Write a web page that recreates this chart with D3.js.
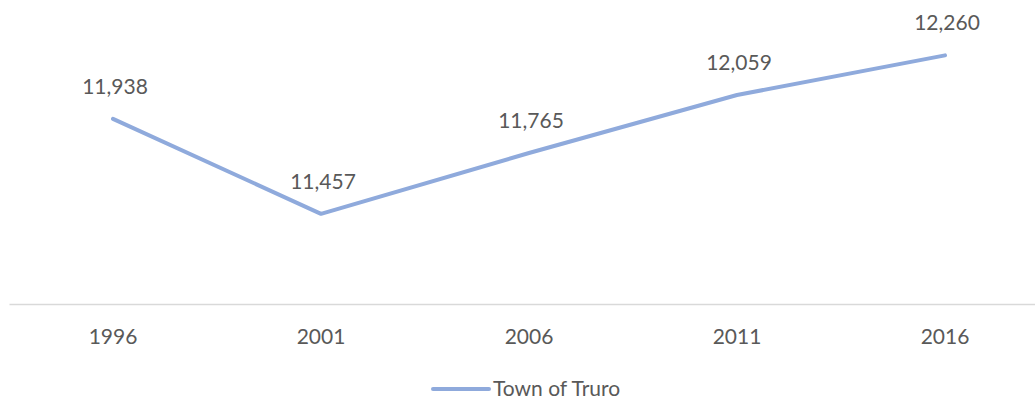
<!DOCTYPE html>
<meta charset="utf-8">
<style>
body {
  margin: 0;
  background: #fff;
}
text {
  font-family: Lato, "Open Sans", sans-serif;
  fill: #595959;
  font-size: 21px;
}
</style>
<body>
<script src="https://d3js.org/d3.v7.min.js"></script>
<script>
// chart data
var years = ["1996", "2001", "2006", "2011", "2016"];
var population = [11938, 11457, 11765, 12059, 12260];
var seriesName = "Town of Truro";

var width = 1035, height = 400;
var lineColor = "#8faadc";

var svg = d3.select("body").append("svg")
  .attr("width", width)
  .attr("height", height);

var x = d3.scaleBand()
  .domain(years)
  .range([9, 1049]);

var y = d3.scaleLinear()
  .domain([11000, 12500])
  .range([304, 8]);

// category axis
var xAxis = svg.append("g")
  .attr("transform", "translate(0," + y(11000) + ")")
  .call(d3.axisBottom(x).tickSize(0).tickPadding(25));
xAxis.select(".domain")
  .attr("stroke", "#d9d9d9")
  .attr("stroke-width", 1.5);
xAxis.selectAll("text")
  .attr("fill", "#595959")
  .style("font-size", "21px")
  .style("font-family", "Lato, 'Open Sans', sans-serif");

var pts = years.map(function(d, i) { return {year: d, value: population[i]}; });

var line = d3.line()
  .x(function(d) { return x(d.year) + x.bandwidth() / 2; })
  .y(function(d) { return y(d.value); });

svg.append("path")
  .datum(pts)
  .attr("fill", "none")
  .attr("stroke", lineColor)
  .attr("stroke-width", 4)
  .attr("stroke-linecap", "round")
  .attr("stroke-linejoin", "round")
  .attr("d", line);

// data labels
svg.selectAll(".label")
  .data(pts)
  .enter().append("text")
  .attr("class", "label")
  .attr("x", function(d) { return x(d.year) + x.bandwidth() / 2 + 2; })
  .attr("y", function(d) { return y(d.value) - 25; })
  .attr("text-anchor", "middle")
  .text(function(d) { return d3.format(",")(d.value); });

// legend
var legend = svg.append("g").attr("transform", "translate(433,389)");
legend.append("line")
  .attr("x1", 0).attr("x2", 56)
  .attr("stroke", lineColor)
  .attr("stroke-width", 4)
  .attr("stroke-linecap", "round");
legend.append("text")
  .attr("x", 60)
  .attr("y", 7)
  .text(seriesName);
</script>
</body>
